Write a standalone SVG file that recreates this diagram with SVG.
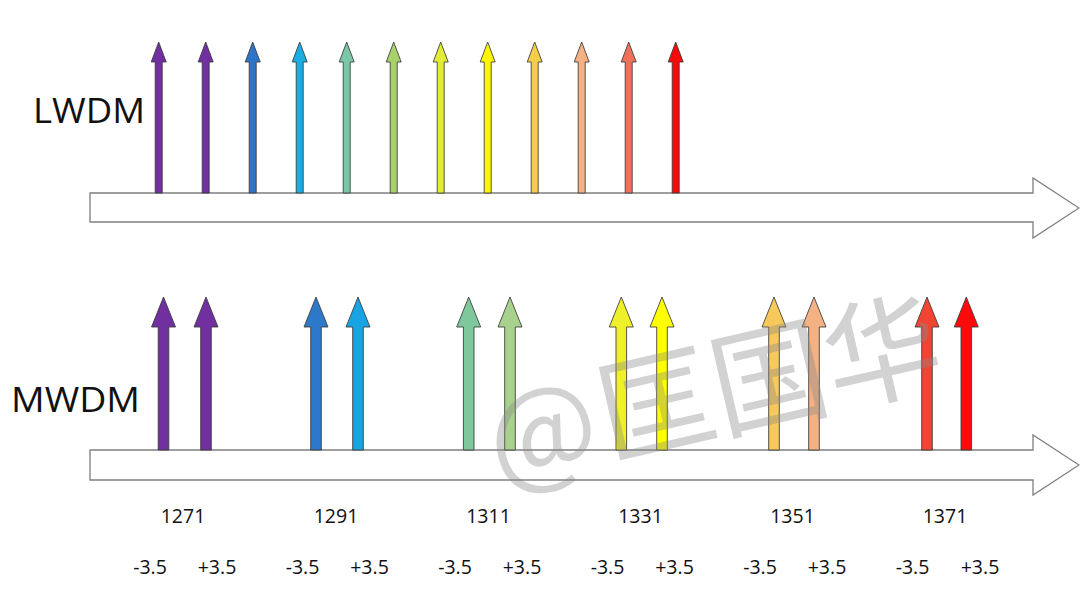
<svg xmlns="http://www.w3.org/2000/svg" width="1080" height="608" viewBox="0 0 1080 608">
<style>
.axis{fill:#fff;stroke:#7f7f7f;stroke-width:1.3}
.arr{stroke:#3a3a3a;stroke-width:1;stroke-opacity:0.85}
.lbl{font-family:"Open Sans","Noto Sans",sans-serif;fill:#111}
.big{font-size:35px}
.num{font-size:19.5px;text-anchor:middle}
.wm{font-family:"Noto Sans CJK SC","Noto Sans",sans-serif;font-size:116px;fill:#8a8a8a;fill-opacity:0.38}
</style>
<defs>
<path id="la" d="M-3.5,193V62H-7.5L0,42L7.5,62H3.5V193Z"/>
<path id="ma" d="M-5.3,450V327H-12L0,297L12,327H5.3V450Z"/>
</defs>
<g id="axes">
<path id="axis-lwdm" class="axis" d="M90,193H1033V178L1079,208L1033,238V222H90Z"/>
<path id="axis-mwdm" class="axis" d="M90,450H1033V435L1079,465L1033,495V480H90Z"/>
</g>
<g id="lwdm-label"><text class="lbl big" x="33" y="123" textLength="112" lengthAdjust="spacingAndGlyphs">LWDM</text></g>
<g id="mwdm-label"><text class="lbl big" x="11" y="412" textLength="129" lengthAdjust="spacingAndGlyphs">MWDM</text></g>
<g id="lwdm-arrows">
<use class="arr" href="#la" x="158.7" fill="#7030A0"/>
<use class="arr" href="#la" x="205.7" fill="#7030A0"/>
<use class="arr" href="#la" x="252.7" fill="#2E74C9"/>
<use class="arr" href="#la" x="299.7" fill="#1AADE2"/>
<use class="arr" href="#la" x="346.7" fill="#7CC6A8"/>
<use class="arr" href="#la" x="393.7" fill="#AAD06C"/>
<use class="arr" href="#la" x="440.7" fill="#E2EC35"/>
<use class="arr" href="#la" x="487.7" fill="#FFF500"/>
<use class="arr" href="#la" x="534.7" fill="#F4CE48"/>
<use class="arr" href="#la" x="581.7" fill="#F4B183"/>
<use class="arr" href="#la" x="628.7" fill="#F0705A"/>
<use class="arr" href="#la" x="675.7" fill="#F40C0C"/>
</g>
<g id="mwdm-arrows">
<use class="arr" href="#ma" x="163.5" fill="#7030A0"/>
<use class="arr" href="#ma" x="206" fill="#7030A0"/>
<use class="arr" href="#ma" x="316" fill="#2E78CA"/>
<use class="arr" href="#ma" x="358" fill="#18A4E2"/>
<use class="arr" href="#ma" x="468.7" fill="#7EC89C"/>
<use class="arr" href="#ma" x="510" fill="#A9D18E"/>
<use class="arr" href="#ma" x="621.3" fill="#EEF02A"/>
<use class="arr" href="#ma" x="662" fill="#FFFF00"/>
<use class="arr" href="#ma" x="774" fill="#F7C85A"/>
<use class="arr" href="#ma" x="814" fill="#F4B183"/>
<use class="arr" href="#ma" x="927" fill="#F24432"/>
<use class="arr" href="#ma" x="966.3" fill="#FF0A0A"/>
</g>
<g id="wavelengths" class="lbl num">
<text x="183" y="522.5">1271</text>
<text x="336" y="522.5">1291</text>
<text x="488.5" y="522.5">1311</text>
<text x="640.5" y="522.5">1331</text>
<text x="792.5" y="522.5">1351</text>
<text x="945" y="522.5">1371</text>
</g>
<g id="offsets" class="lbl num">
<text x="150" y="574">-3.5</text><text x="217" y="574">+3.5</text>
<text x="302.5" y="574">-3.5</text><text x="369.5" y="574">+3.5</text>
<text x="455" y="574">-3.5</text><text x="522" y="574">+3.5</text>
<text x="607.5" y="574">-3.5</text><text x="674.5" y="574">+3.5</text>
<text x="760" y="574">-3.5</text><text x="827" y="574">+3.5</text>
<text x="912.5" y="574">-3.5</text><text x="980" y="574">+3.5</text>
</g>
<g id="watermark"><text class="wm" x="498" y="484" transform="rotate(-13 498 484)">@<tspan dx="-22"> 匡国华</tspan></text></g>
</svg>
